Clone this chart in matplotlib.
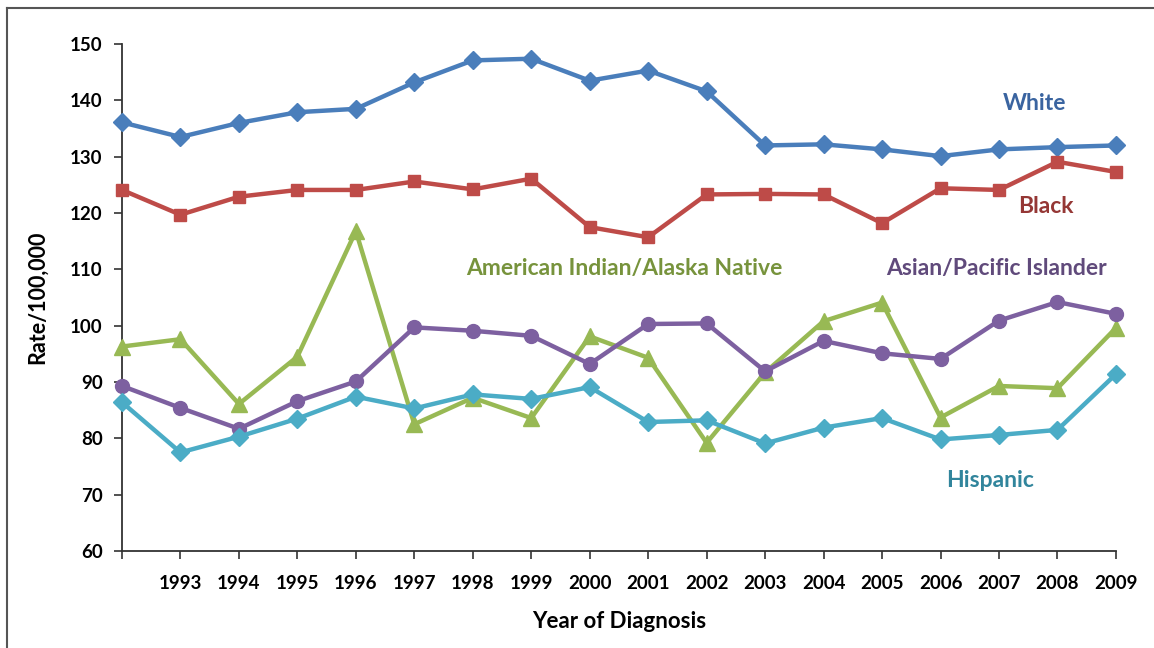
import matplotlib.pyplot as plt
from matplotlib.lines import Line2D

years = list(range(1992, 2010))
tick_labels = [''] + [str(y) for y in range(1993, 2010)]

white = [136.1, 133.5, 136.0, 137.9, 138.5, 143.2, 147.1, 147.4, 143.5, 145.3,
         141.6, 132.0, 132.2, 131.3, 130.1, 131.3, 131.7, 132.0]
black = [124.1, 119.7, 122.9, 124.1, 124.1, 125.6, 124.2, 126.1, 117.5, 115.7,
         123.3, 123.4, 123.3, 118.2, 124.4, 124.1, 129.1, 127.3]
aian = [96.3, 97.6, 86.1, 94.5, 116.8, 82.5, 87.2, 83.6, 98.1, 94.3,
        79.2, 91.7, 100.8, 104.1, 83.7, 89.3, 88.9, 99.6]
api = [89.3, 85.4, 81.7, 86.6, 90.1, 99.7, 99.1, 98.2, 93.2, 100.3,
       100.4, 91.9, 97.3, 95.1, 94.1, 100.9, 104.2, 102.1]
hispanic = [86.4, 77.5, 80.3, 83.5, 87.4, 85.3, 87.8, 87.0, 89.1, 82.9,
            83.2, 79.1, 81.9, 83.6, 79.8, 80.6, 81.5, 91.4]

series = [
  ('White', white, '#4A7EBB', 'D', 9, '#3A64A0', (2007.6, 139.4)),
  ('Black', black, '#BE4B48', 's', 9, '#953735', (2007.8, 121.2)),
  ('American Indian/Alaska Native', aian, '#98B954', '^', 11, '#77933C', (2000.6, 110.1)),
  ('Asian/Pacific Islander', api, '#7D60A0', 'o', 10, '#604A7B', (2006.95, 110.2)),
  ('Hispanic', hispanic, '#4BACC6', 'D', 9, '#31859C', (2006.85, 72.6)),
]

plt.rcParams['font.family'] = ['Lato', 'DejaVu Sans']

fig = plt.figure(figsize=(11.54, 6.48), dpi=100)
ax = fig.add_axes([0.1057, 0.1497, 0.8613, 0.7823])

for name, vals, color, marker, ms, label_color, pos in series:
  ax.plot(years, vals, color=color, lw=3.2, marker=marker, ms=ms,
          markeredgecolor=color, zorder=3, clip_on=False)
  ax.text(pos[0], pos[1], name, color=label_color, fontsize=16.5,
          fontweight='bold', ha='center', va='center')

ax.set_xlim(1992, 2009)
ax.set_ylim(60, 150)
ax.set_yticks(range(60, 151, 10))
ax.set_xticks(years)
ax.set_xticklabels(tick_labels)
ax.tick_params(axis='both', labelsize=13.5, length=6, width=1.2,
               color='#333333', direction='out')
for lbl in ax.get_xticklabels() + ax.get_yticklabels():
  lbl.set_fontweight('bold')
ax.tick_params(axis='x', pad=11)
ax.tick_params(axis='y', pad=8)

for side in ['top', 'right']:
  ax.spines[side].set_visible(False)
for side in ['left', 'bottom']:
  ax.spines[side].set_color('#333333')
  ax.spines[side].set_linewidth(1.3)

ax.set_ylabel('Rate/100,000', fontsize=15.5, fontweight='bold', labelpad=16)
ax.set_xlabel('Year of Diagnosis', fontsize=16, fontweight='bold', labelpad=14)

# border frame
fig.add_artist(Line2D([7 / 1154, 7 / 1154], [0, 1 - 8 / 648],
                      transform=fig.transFigure, color='#555555', lw=1.5))
fig.add_artist(Line2D([7 / 1154, 1], [1 - 8 / 648, 1 - 8 / 648],
                      transform=fig.transFigure, color='#555555', lw=1.5))

plt.savefig('out.png', dpi=100)
